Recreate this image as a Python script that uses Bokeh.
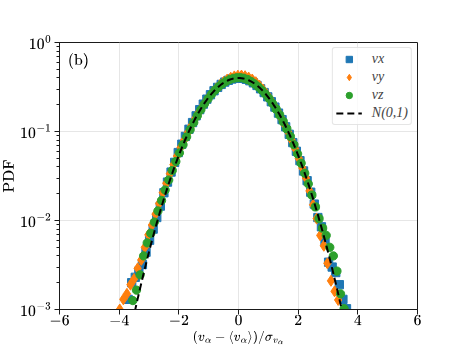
import numpy as np
from bokeh.plotting import figure
from bokeh.models import (Range1d, LogTicker, SingleIntervalTicker, CustomJSTickFormatter,
                          Legend, LegendItem, Label, TeX)
from bokeh.embed import file_html
from bokeh.resources import INLINE

# ---- data ----
vx_x = [-3.70, -3.58, -3.46, -3.34, -3.22, -3.10, -2.98, -2.86, -2.74, -2.62, -2.50, -2.38,
        -2.26, -2.14, -2.02, -1.90, -1.78, -1.66, -1.54, -1.42, -1.30, -1.18, -1.06, -0.94,
        -0.82, -0.70, -0.58, -0.46, -0.34, -0.22, -0.10, 0.02, 0.14, 0.26, 0.38, 0.50, 0.62,
        0.74, 0.86, 0.98, 1.10, 1.22, 1.34, 1.46, 1.58, 1.70, 1.82, 1.94, 2.06, 2.18, 2.30,
        2.42, 2.54, 2.66, 2.78, 2.90, 3.02, 3.14, 3.26, 3.38, 3.50, 3.62]
vx_pdf = [1.3e-3, 2.0e-3, 2.3e-3, 2.7e-3, 3.2e-3, 4.4e-3, 6.0e-3, 8.0e-3, 0.0108, 0.0145,
          0.0205, 0.027, 0.035, 0.045, 0.058, 0.072, 0.088, 0.106, 0.126, 0.150, 0.176, 0.203,
          0.231, 0.259, 0.287, 0.313, 0.338, 0.359, 0.376, 0.389, 0.397, 0.400, 0.396, 0.386,
          0.372, 0.352, 0.329, 0.302, 0.274, 0.245, 0.216, 0.188, 0.161, 0.136, 0.113, 0.093,
          0.075, 0.060, 0.047, 0.036, 0.028, 0.0208, 0.0153, 0.0108, 0.0085, 0.0058, 0.0034,
          0.0030, 0.0026, 0.0019, 0.0013, 0.00102]

vy_x = [-3.98, -3.86, -3.74, -3.62, -3.50, -3.38, -3.26, -3.14, -3.02, -2.90, -2.78, -2.66,
        -2.54, -2.42, -2.30, -2.18, -2.06, -1.94, -1.82, -1.70, -1.58, -1.46, -1.34, -1.22,
        -1.10, -0.98, -0.86, -0.74, -0.62, -0.50, -0.38, -0.26, -0.14, -0.02, 0.10, 0.22,
        0.34, 0.46, 0.58, 0.70, 0.82, 0.94, 1.06, 1.18, 1.30, 1.42, 1.54, 1.66, 1.78, 1.90,
        2.02, 2.14, 2.26, 2.38, 2.50, 2.62, 2.74, 2.86, 2.98, 3.10, 3.22, 3.34]
vy_pdf = [1.0e-3, 1.3e-3, 1.5e-3, 1.9e-3, 2.2e-3, 2.9e-3, 3.6e-3, 5.0e-3, 6.9e-3, 8.9e-3,
          0.0118, 0.0155, 0.0205, 0.0262, 0.0335, 0.0425, 0.053, 0.066, 0.080, 0.097, 0.116,
          0.138, 0.162, 0.188, 0.216, 0.246, 0.276, 0.305, 0.334, 0.360, 0.383, 0.402, 0.416,
          0.424, 0.425, 0.418, 0.404, 0.384, 0.358, 0.328, 0.296, 0.263, 0.231, 0.200, 0.171,
          0.144, 0.120, 0.099, 0.080, 0.064, 0.050, 0.039, 0.030, 0.0215, 0.0150, 0.0105,
          0.0068, 0.0052, 0.0033, 0.0021, 0.0016, 0.00128]

vz_x = [-3.54, -3.42, -3.30, -3.18, -3.06, -2.94, -2.82, -2.70, -2.58, -2.46, -2.34, -2.22,
        -2.10, -1.98, -1.86, -1.74, -1.62, -1.50, -1.38, -1.26, -1.14, -1.02, -0.90, -0.78,
        -0.66, -0.54, -0.42, -0.30, -0.18, -0.06, 0.06, 0.18, 0.30, 0.42, 0.54, 0.66, 0.78,
        0.90, 1.02, 1.14, 1.26, 1.38, 1.50, 1.62, 1.74, 1.86, 1.98, 2.10, 2.22, 2.34, 2.46,
        2.58, 2.70, 2.82, 2.94, 3.06, 3.18, 3.30, 3.42, 3.54]
vz_pdf = [1.26e-3, 1.65e-3, 2.45e-3, 4.0e-3, 5.6e-3, 7.2e-3, 9.6e-3, 0.0128, 0.0168, 0.0220,
          0.0285, 0.0365, 0.046, 0.0575, 0.071, 0.087, 0.105, 0.126, 0.150, 0.176, 0.204,
          0.233, 0.263, 0.292, 0.319, 0.344, 0.366, 0.383, 0.395, 0.402, 0.403, 0.397, 0.384,
          0.365, 0.343, 0.318, 0.292, 0.264, 0.236, 0.207, 0.179, 0.153, 0.129, 0.107, 0.088,
          0.071, 0.056, 0.044, 0.034, 0.0258, 0.0193, 0.0142, 0.0105, 0.0082, 0.0068, 0.0050,
          0.0040, 0.0027, 0.0015, 0.00102]

# reference normal distribution N(0,1)
gauss_x = np.linspace(-4.0, 4.0, 401)
gauss_pdf = np.exp(-gauss_x ** 2 / 2.0) / np.sqrt(2.0 * np.pi)

x_ticks = [-6, -4, -2, 0, 2, 4, 6]
y_ticks = [1e-3, 1e-2, 1e-1, 1.0]
y_tick_labels = ["10^{-3}", "10^{-2}", "10^{-1}", "10^{0}"]
legend_labels = ["vx", "vy", "vz", "N(0,1)"]
panel_tag = r"\mathrm{(b)}"
x_label = r"(v_\alpha - \langle v_\alpha \rangle)/\sigma_{v_\alpha}"
y_label = r"\mathrm{PDF}"

BLUE, ORANGE, GREEN = "#1f77b4", "#ff7f0e", "#2ca02c"
SERIF = "Liberation Serif"
INK = "#1a1a1a"

p = figure(width=463, height=348, x_range=Range1d(-6, 6), y_range=Range1d(1e-3, 1.0),
           y_axis_type="log", output_backend="svg", toolbar_location=None,
           min_border_left=58, min_border_top=42, min_border_right=46, min_border_bottom=39)
p.background_fill_color = "white"
p.border_fill_color = "white"
p.outline_line_color = INK
p.outline_line_width = 1

r_vx = p.scatter(vx_x, vx_pdf, marker="square", size=8.3, fill_color=BLUE, line_color=BLUE)
r_vy = p.scatter(vy_x, vy_pdf, marker="diamond", size=11, fill_color=ORANGE, line_color=ORANGE)
r_vz = p.scatter(vz_x, vz_pdf, marker="circle", size=8.3, fill_color=GREEN, line_color=GREEN)
r_g = p.line(gauss_x, gauss_pdf, line_color="black", line_width=2, line_dash="7 4")

# axes
xt = SingleIntervalTicker(interval=2, num_minor_ticks=0)
p.xaxis.ticker = xt
p.xgrid.ticker = xt
p.xaxis.formatter = CustomJSTickFormatter(
    code="return tick < 0 ? '\\u2212' + (-tick) : '' + tick;")
p.xaxis.major_label_overrides = {
    t: TeX(text=("-%d" % (-t) if t < 0 else "%d" % t)) for t in x_ticks}
p.yaxis.ticker = LogTicker(num_minor_ticks=10)
p.yaxis.major_label_overrides = {v: TeX(text=s) for v, s in zip(y_ticks, y_tick_labels)}

for ax in (p.xaxis, p.yaxis):
    ax.axis_line_color = INK
    ax.major_tick_line_color = INK
    ax.minor_tick_line_color = INK
    ax.major_tick_in = 0
    ax.major_tick_out = 5
    ax.minor_tick_in = 0
    ax.minor_tick_out = 3
    ax.major_label_text_font = SERIF
    ax.major_label_text_font_size = "14px"
    ax.major_label_text_color = "black"
    ax.axis_label_text_font = SERIF
    ax.axis_label_text_font_size = "14px"
    ax.axis_label_text_font_style = "normal"
    ax.axis_label_text_color = "black"
    ax.major_label_standoff = 3
    ax.axis_label_standoff = 2

p.xaxis.major_label_standoff = 0
p.xaxis.axis_label_standoff = -2
p.xaxis.axis_label_text_font_size = "13px"
p.yaxis.axis_label_standoff = -1

p.xaxis.axis_label = TeX(text=x_label)
p.yaxis.axis_label = TeX(text=y_label)

for g in (p.xgrid, p.ygrid):
    g.grid_line_color = "#cccccc"
    g.grid_line_dash = "1 1"
    g.grid_line_width = 1

p.add_layout(Label(x=-5.72, y=0.62, text=TeX(text=panel_tag), text_font_size="13px",
                   text_baseline="middle", text_color="black"))

legend = Legend(items=[LegendItem(label=legend_labels[0], renderers=[r_vx]),
                       LegendItem(label=legend_labels[1], renderers=[r_vy]),
                       LegendItem(label=legend_labels[2], renderers=[r_vz]),
                       LegendItem(label=legend_labels[3], renderers=[r_g])],
                location="top_right")
legend.margin = 5
legend.padding = 3
legend.spacing = 2
legend.glyph_width = 26
legend.glyph_height = 16
legend.label_height = 16
legend.label_standoff = 10
legend.label_text_font = SERIF
legend.label_text_font_style = "italic"
legend.label_text_font_size = "14px"
legend.border_line_color = "#cccccc"
legend.background_fill_alpha = 0.8
if "border_radius" in legend.properties():
    legend.border_radius = 3
p.add_layout(legend)

open("out.html", "w").write(file_html(p, INLINE))
